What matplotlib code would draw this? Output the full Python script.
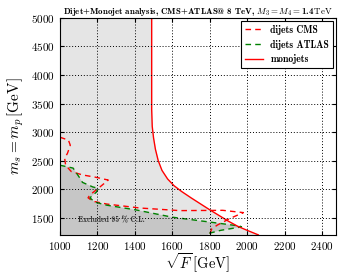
import numpy as np
import matplotlib
matplotlib.use("Agg")
import matplotlib.pyplot as plt

plt.rcParams.update({
    "font.family": "serif",
    "font.serif": ["cmr10"],
    "mathtext.fontset": "cm",
    "axes.formatter.use_mathtext": True,
    "axes.unicode_minus": False,
    "font.size": 8})

# monojet exclusion boundary (sqrt F, m_s)
mono_x = [1490, 1490, 1493, 1500, 1510, 1525, 1545, 1575, 1610, 1650, 1700, 1750, 1800, 1850,
          1900, 1950, 2000, 2060]
mono_y = [5000, 3400, 3100, 2900, 2700, 2500, 2330, 2180, 2060, 1960, 1850, 1745, 1640, 1540,
          1440, 1350, 1280, 1200]

# dijet CMS boundary
cms_x = [1000, 1045, 1055, 1040, 1025, 1030, 1060, 1120, 1190, 1258, 1210, 1160, 1150, 1175, 1250,
         1430, 1640, 1870, 1980, 1910, 1840, 1810, 1800]
cms_y = [2910, 2860, 2770, 2630, 2540, 2420, 2310, 2250, 2210, 2160, 2030, 1900, 1850, 1790, 1740,
         1670, 1625, 1630, 1590, 1490, 1370, 1300, 1200]

# dijet ATLAS boundary
atlas_x = [1000, 1070, 1105, 1120, 1175, 1205, 1195, 1160, 1185, 1250, 1410, 1600, 1800, 1960,
           1970, 1860, 1800, 1790]
atlas_y = [2420, 2370, 2200, 2120, 2040, 2015, 1950, 1850, 1775, 1720, 1635, 1510, 1425, 1355,
           1340, 1280, 1230, 1200]


def plot(plot_file: str) -> None:
    fig = plt.figure(figsize=(3.39, 2.76), dpi=100)
    ax = fig.add_axes([0.177, 0.149, 0.814, 0.786])

    ax.fill_betweenx(mono_y, 1000, mono_x, color="#e5e5e5", lw=0, zorder=0)
    ax.fill(np.r_[1000, atlas_x, 1000], np.r_[1200, atlas_y, 1200],
            color="#c6c6c6", lw=0, zorder=0.5)

    ax.plot(cms_x, cms_y, color="red", ls=(0, (4, 3)), lw=1.0, label="dijets CMS")
    ax.plot(atlas_x, atlas_y, color="green", ls=(0, (4, 3)), lw=1.0, label="dijets ATLAS")
    ax.plot(mono_x, mono_y, color="red", lw=1.0, label="monojets")

    ax.text(1095, 1450, "Excluded 95 % C.L.", family="cmb10", fontsize=5.5,
            va="center", color="#333333")

    ax.set_xlim(1000, 2475)
    ax.set_ylim(1200, 5000)
    ax.set_xticks(np.arange(1000, 2401, 200))
    ax.set_yticks(np.arange(1500, 5001, 500))
    ax.grid(True, color="black", ls=(0, (1, 2)), lw=0.7)
    ax.set_axisbelow(False)
    ax.tick_params(direction="in", length=3, top=True, right=True)

    ax.set_xlabel(r"$\sqrt{F}\,[\mathrm{GeV}]$", fontsize=10.5, labelpad=0)
    ax.set_ylabel(r"$m_s=m_p\,[\mathrm{GeV}]$", fontsize=11)
    ax.set_title(r"Dijet+Monojet analysis, CMS+ATLAS@ 8 TeV, $M_3=M_4=$1.4$\,\mathrm{TeV}$",
                 family="cmb10", fontsize=6.4, pad=3)

    leg = ax.legend(loc="upper right", prop=dict(family="cmb10", size=7),
                    fancybox=False, edgecolor="black", framealpha=1,
                    handlelength=1.8, borderaxespad=0.3)
    leg.get_frame().set_linewidth(0.8)

    fig.savefig(plot_file, dpi=100)
    plt.close(fig)


if __name__ == "__main__":
    plot("out.png")
